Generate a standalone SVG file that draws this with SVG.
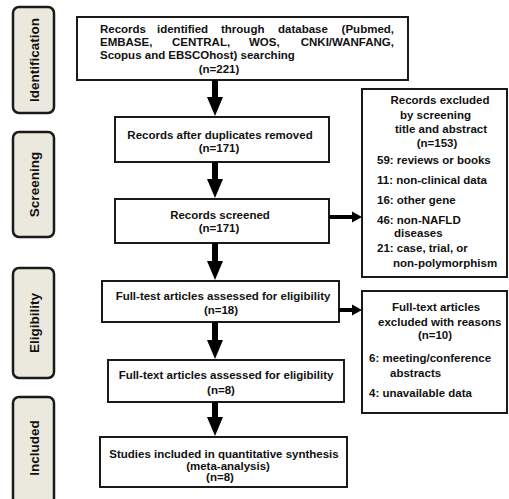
<svg xmlns="http://www.w3.org/2000/svg" width="509" height="499" viewBox="0 0 509 499">
<defs>
<style>
.box{fill:#fff;stroke:#1a1a1a;stroke-width:2}
.side{fill:#ebe8dd;stroke:#1a1a1a;stroke-width:2.5}
text{font-family:"Liberation Sans",Arial,sans-serif;font-weight:bold;font-size:11.5px;fill:#111}
.c{text-anchor:middle}
.e{text-anchor:end}
.st{font-size:13.5px;text-anchor:middle}
.sh{stroke:#000;stroke-width:6}
.hs{stroke:#000;stroke-width:4}
</style>
</defs>
<rect width="509" height="499" fill="#fff"/>
<g id="side-identification"><rect class="side" x="13" y="7" width="41" height="106" rx="6"/><text class="st" transform="translate(38.5 60) rotate(-90)">Identification</text></g>
<g id="side-screening"><rect class="side" x="13" y="132" width="41" height="105" rx="6"/><text class="st" transform="translate(38.5 184.5) rotate(-90)">Screening</text></g>
<g id="side-eligibility"><rect class="side" x="13" y="268" width="41" height="110" rx="6"/><text class="st" transform="translate(38.5 323) rotate(-90)">Eligibility</text></g>
<g id="side-included"><rect class="side" x="13" y="397" width="41" height="110" rx="6"/><text class="st" transform="translate(38.5 448) rotate(-90)">Included</text></g>

<g id="n1"><rect class="box" x="77" y="17" width="331" height="63"/>
<text x="100" y="33">Records</text><text x="157" y="33">identified</text><text x="221" y="33">through</text><text x="278" y="33">database</text><text class="e" x="394" y="33">(Pubmed,</text>
<text x="100" y="46">EMBASE,</text><text x="172" y="46">CENTRAL,</text><text x="249" y="46">WOS,</text><text class="e" x="394" y="46">CNKI/WANFANG,</text>
<text x="100" y="59">Scopus and EBSCOhost) searching</text>
<text class="c" x="219" y="73">(n=221)</text></g>

<g id="n2"><rect class="box" x="115" y="117" width="214" height="45"/>
<text class="c" x="220" y="139">Records after duplicates removed</text><text class="c" x="219" y="152">(n=171)</text></g>

<g id="n3"><rect class="box" x="115" y="199" width="214" height="44"/>
<text class="c" x="220" y="219">Records screened</text><text class="c" x="219" y="232">(n=171)</text></g>

<g id="n4"><rect class="box" x="102" y="281" width="237" height="41"/>
<text class="c" x="223" y="300">Full-test articles assessed for eligibility</text><text class="c" x="221" y="314">(n=18)</text></g>

<g id="n5"><rect class="box" x="108" y="360" width="236" height="42"/>
<text class="c" x="226" y="379">Full-text articles assessed for eligibility</text><text class="c" x="221" y="394">(n=8)</text></g>

<g id="n6"><rect class="box" x="100" y="437" width="247" height="50"/>
<text class="c" x="224" y="458">Studies included in quantitative synthesis</text><text class="c" x="228" y="469.5">(meta-analysis)</text><text class="c" x="220" y="481">(n=8)</text></g>

<g id="x1"><rect class="box" x="362" y="89" width="145" height="188"/>
<text class="c" x="440" y="104">Records excluded</text>
<text x="400" y="119">by screening</text>
<text class="c" x="441" y="133">title and abstract</text>
<text class="c" x="437" y="147">(n=153)</text>
<text x="377" y="164">59: reviews or books</text>
<text x="377" y="184">11: non-clinical  data</text>
<text x="377" y="204">16: other gene</text>
<text x="377" y="224">46: non-NAFLD</text>
<text x="394" y="237">diseases</text>
<text x="377" y="252">21: case, trial, or</text>
<text x="393" y="267">non-polymorphism</text></g>

<g id="x2"><rect class="box" x="362" y="291" width="145" height="122"/>
<text x="392" y="311">Full-text articles</text>
<text x="378" y="326">excluded with reasons</text>
<text class="c" x="435" y="339">(n=10)</text>
<text x="369" y="362">6:  meeting/conference</text>
<text x="390" y="377">abstracts</text>
<text x="369" y="397">4: unavailable data</text></g>

<g id="connectors">
<line class="sh" x1="215" y1="80" x2="215" y2="99"/><polygon points="207,97 223,97 215,116"/>
<line class="sh" x1="215" y1="162" x2="215" y2="181"/><polygon points="207,179 223,179 215,198"/>
<line class="sh" x1="215" y1="243" x2="215" y2="263"/><polygon points="207,261 223,261 215,280"/>
<line class="sh" x1="215" y1="322" x2="215" y2="342"/><polygon points="207,340 223,340 215,359"/>
<line class="sh" x1="215" y1="402" x2="215" y2="419"/><polygon points="207,417 223,417 215,436"/>
<line class="hs" x1="329" y1="217" x2="354" y2="217"/><polygon points="352,211.5 352,222.5 362,217"/>
<line class="hs" x1="339" y1="310" x2="354" y2="310"/><polygon points="352,304.5 352,315.5 362,310"/>
</g>
</svg>
